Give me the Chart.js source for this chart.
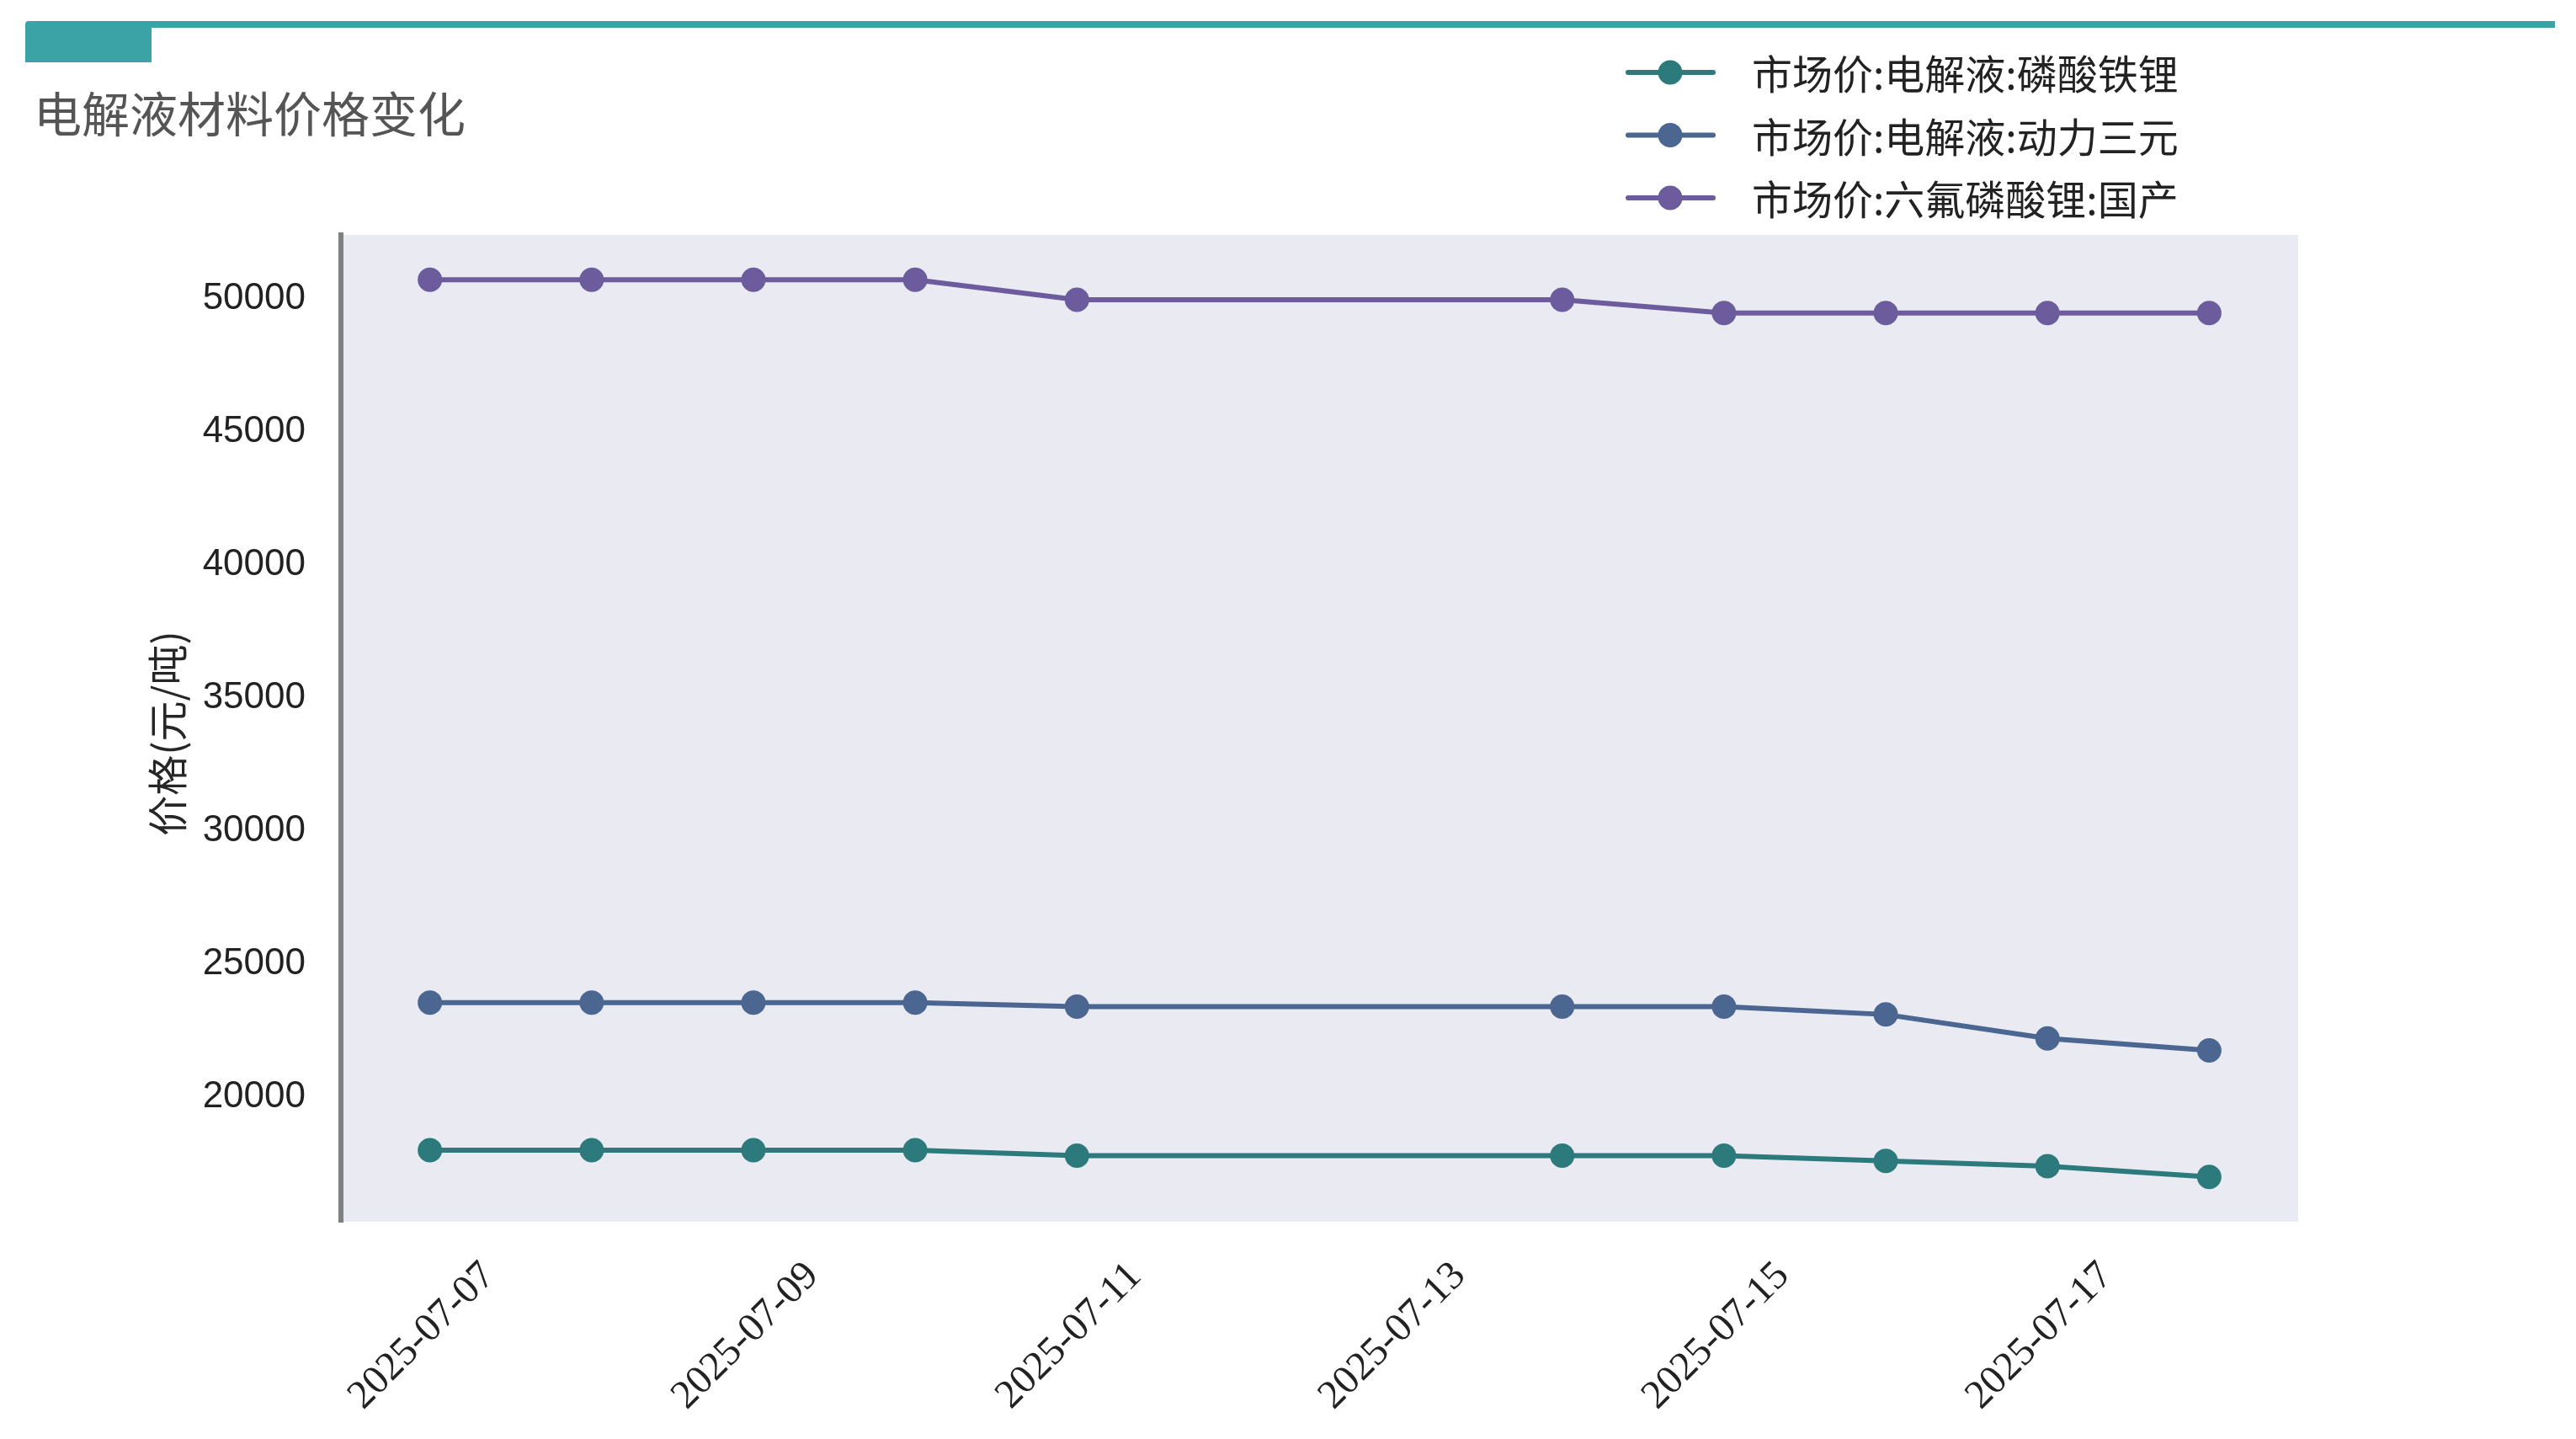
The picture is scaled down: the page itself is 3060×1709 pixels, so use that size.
<!DOCTYPE html>
<html>
<head>
<meta charset="utf-8">
<script src="https://cdn.jsdelivr.net/npm/chart.js@4.4.1/dist/chart.umd.min.js"></script>
<style>
  html, body { margin: 0; padding: 0; background: #fff; }
  #c { display: block; }
</style>
</head>
<body>
<canvas id="c" width="3060" height="1709" style="width:3060px;height:1709px"></canvas>
<script>
// 电解液材料价格变化 (元/吨)
var dates = ['2025-07-07', '2025-07-08', '2025-07-09', '2025-07-10', '2025-07-11',
             '2025-07-14', '2025-07-15', '2025-07-16', '2025-07-17', '2025-07-18'];
var lfpValues = [17850, 17850, 17850, 17850, 17650, 17650, 17650, 17450, 17250, 16850];
var ncmValues = [23400, 23400, 23400, 23400, 23250, 23250, 23250, 22950, 22050, 21600];
var lipf6Values = [50550, 50550, 50550, 50550, 49800, 49800, 49300, 49300, 49300, 49300];
var seriesNames = ['市场价:电解液:磷酸铁锂', '市场价:电解液:动力三元', '市场价:六氟磷酸锂:国产'];
var seriesColors = ['#2d7a7c', '#4a6691', '#6c5c9e'];
var xTickLabels = ['2025-07-07', '2025-07-09', '2025-07-11', '2025-07-13', '2025-07-15', '2025-07-17'];
var yTickValues = [20000, 25000, 30000, 35000, 40000, 45000, 50000];

var W = 3060, H = 1709;

function dayOf(d) {
    return Number(d.slice(8, 10));
}

function toPoints(values) {
    var pts = [];
    for (var i = 0; i < dates.length; i++) {
        pts.push({ x: dayOf(dates[i]), y: values[i] });
    }
    return pts;
}

// matplotlib-like 5% margins
var allY = lfpValues.concat(ncmValues, lipf6Values);
var yMin = Math.min.apply(null, allY), yMax = Math.max.apply(null, allY);
var yPad = (yMax - yMin) * 0.05;
var xMin = dayOf(dates[0]), xMax = dayOf(dates[dates.length - 1]);
var xPad = (xMax - xMin) * 0.05;

var decor = {
    id: 'decor',
    beforeDraw: function(chart) {
        var ctx = chart.ctx, a = chart.chartArea;
        ctx.save();
        ctx.fillStyle = '#ffffff';
        ctx.fillRect(0, 0, W, H);
        ctx.fillStyle = '#eaeaf2';
        ctx.fillRect(a.left, a.top, a.right - a.left, a.bottom - a.top);

        // header bar
        ctx.fillStyle = '#3ba3a6';
        ctx.beginPath();
        ctx.moveTo(34, 25);
        ctx.lineTo(3035, 25);
        ctx.lineTo(3035, 33);
        ctx.lineTo(30, 33);
        ctx.arc(34, 29, 4, Math.PI / 2, Math.PI * 1.5);
        ctx.fill();
        ctx.fillRect(30, 29, 150, 45);

        // title
        ctx.fillStyle = '#555555';
        ctx.font = '57px "Noto Sans CJK SC"';
        ctx.textAlign = 'left';
        ctx.textBaseline = 'middle';
        ctx.fillText('电解液材料价格变化', 40, 135);

        // y title
        ctx.save();
        ctx.translate(199, 871);
        ctx.rotate(-Math.PI / 2);
        ctx.fillStyle = '#262626';
        ctx.font = '48px "Noto Sans CJK SC"';
        ctx.textAlign = 'center';
        ctx.textBaseline = 'middle';
        ctx.fillText('价格(元/吨)', 0, 0);
        ctx.restore();
        ctx.restore();
    },
    afterDraw: function(chart) {
        var ctx = chart.ctx;
        var xs = chart.scales.x, ys = chart.scales.y;
        ctx.save();

        // y tick labels
        ctx.fillStyle = '#222222';
        ctx.font = '44px "Liberation Sans", Arial, sans-serif';
        ctx.textAlign = 'right';
        ctx.textBaseline = 'middle';
        yTickValues.forEach(function(v) {
            ctx.fillText(String(v), 363, ys.getPixelForValue(v) + 5);
        });

        // x tick labels, rotated 45 and centred on the tick
        ctx.font = '48px "Liberation Serif"';
        ctx.textAlign = 'center';
        xTickLabels.forEach(function(lab) {
            var px = xs.getPixelForValue(dayOf(lab));
            ctx.save();
            ctx.translate(px - 9, 1587);
            ctx.rotate(-Math.PI / 4);
            ctx.fillText(lab, 0, 0);
            ctx.restore();
        });

        // legend
        chart.data.datasets.forEach(function(ds, i) {
            var y = 86 + i * 74.5;
            ctx.strokeStyle = ds.borderColor;
            ctx.lineWidth = 6;
            ctx.lineCap = 'round';
            ctx.beginPath();
            ctx.moveTo(1934, y);
            ctx.lineTo(2035, y);
            ctx.stroke();
            ctx.fillStyle = ds.borderColor;
            ctx.beginPath();
            ctx.arc(1984, y, 14.5, 0, Math.PI * 2);
            ctx.fill();
            ctx.fillStyle = '#222222';
            ctx.font = '48px "Noto Sans CJK SC"';
            ctx.textAlign = 'left';
            ctx.textBaseline = 'middle';
            ctx.fillText(ds.label, 2081, y + 2);
        });
        ctx.restore();
    }
};

function makeDataset(i, values) {
    return {
        label: seriesNames[i],
        data: toPoints(values),
        borderColor: seriesColors[i],
        backgroundColor: seriesColors[i],
        pointBackgroundColor: seriesColors[i],
        borderWidth: 6,
        pointRadius: 14.5,
        pointHoverRadius: 14.5,
        pointBorderWidth: 0,
        tension: 0
    };
}

new Chart(document.getElementById('c').getContext('2d'), {
    type: 'line',
    data: {
        datasets: [
            makeDataset(0, lfpValues),
            makeDataset(1, ncmValues),
            makeDataset(2, lipf6Values)
        ]
    },
    options: {
        responsive: false,
        devicePixelRatio: 1,
        animation: false,
        events: [],
        layout: { padding: { left: 0, top: 279, right: W - 2730, bottom: 0 } },
        plugins: {
            legend: { display: false },
            title: { display: false },
            tooltip: { enabled: false }
        },
        scales: {
            x: {
                type: 'linear',
                min: xMin - xPad,
                max: xMax + xPad,
                grid: { display: false, drawTicks: false },
                border: { display: false },
                ticks: { display: false },
                afterBuildTicks: function(axis) {
                    axis.ticks = xTickLabels.map(function(l) { return { value: dayOf(l) }; });
                },
                afterFit: function(axis) { axis.height = H - 1451; }
            },
            y: {
                type: 'linear',
                min: yMin - yPad,
                max: yMax + yPad,
                grid: { display: false, drawTicks: false },
                border: { display: true, color: '#808080', width: 6 },
                ticks: { display: false },
                afterBuildTicks: function(axis) {
                    axis.ticks = yTickValues.map(function(v) { return { value: v }; });
                },
                afterFit: function(axis) { axis.width = 405; }
            }
        }
    },
    plugins: [decor]
});
</script>
</body>
</html>
